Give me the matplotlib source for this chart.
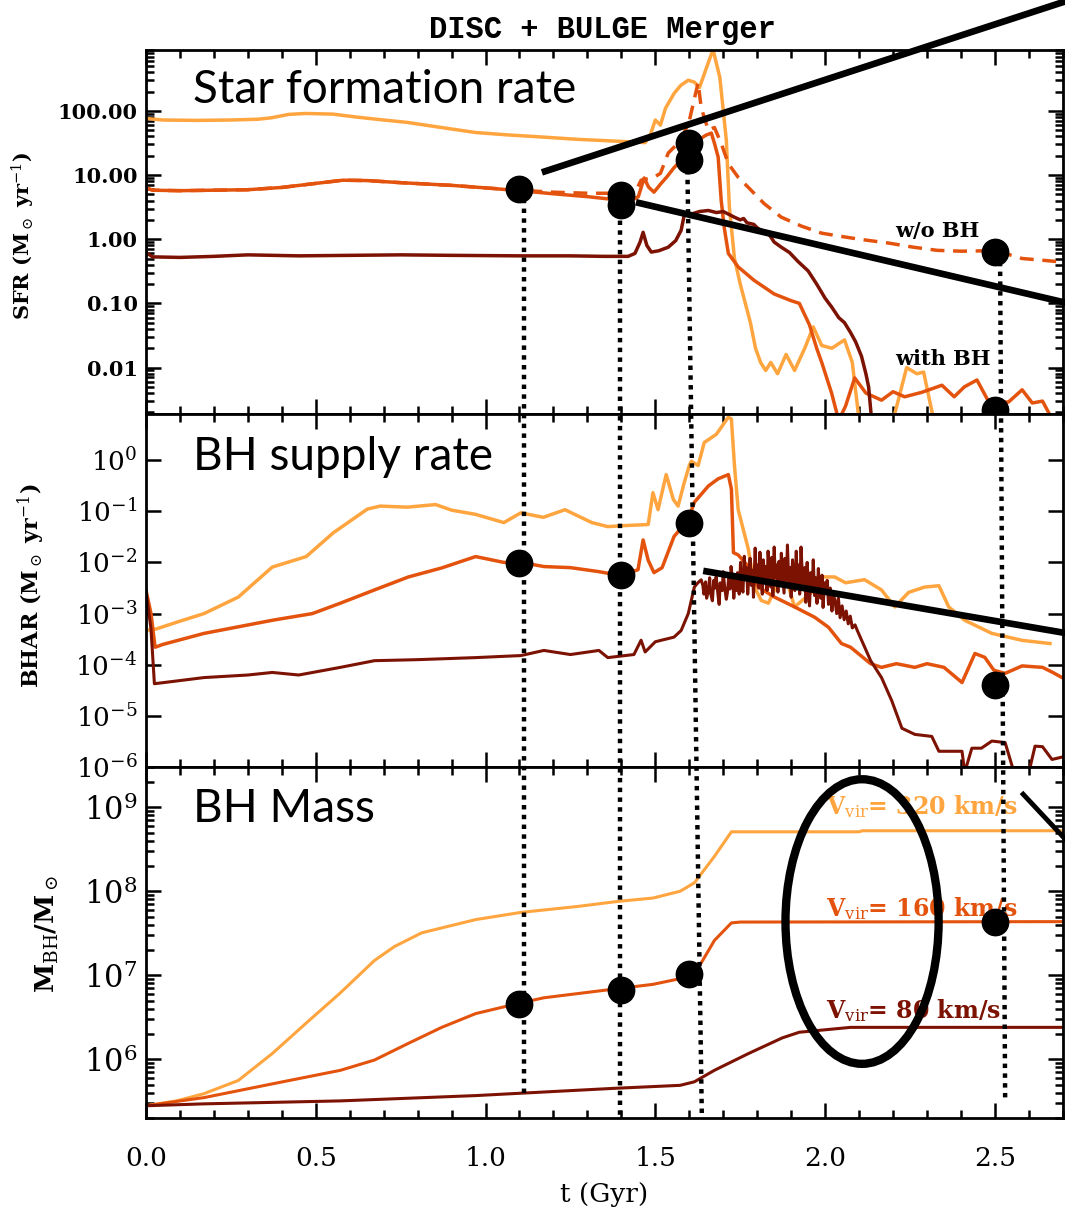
import matplotlib
matplotlib.use("Agg")
import numpy as np
import matplotlib.pyplot as plt
from matplotlib.lines import Line2D
from matplotlib.patches import Ellipse
from matplotlib.ticker import (FixedLocator, FuncFormatter, LogLocator,
                               MultipleLocator, NullLocator, NullFormatter)

plt.rcParams['mathtext.fontset'] = 'dejavuserif'

C320 = '#FFA53F'
C160 = '#E4530D'
C80 = '#7C1202'

# ---------------- star formation rate (Msun / yr) ----------------
t_sfr320 = [0.0, 0.05, 0.15, 0.25, 0.33, 0.37, 0.42, 0.47, 0.55, 0.62, 0.70, 0.77,
            0.87, 0.97, 1.07, 1.17, 1.27, 1.37, 1.47, 1.485, 1.50, 1.515, 1.53, 1.555,
            1.575, 1.597, 1.615, 1.63, 1.65, 1.67, 1.69, 1.709, 1.718, 1.733, 1.75,
            1.765, 1.78, 1.795, 1.81, 1.825, 1.84, 1.86, 1.885, 1.91, 1.94, 1.965,
            1.99, 2.02, 2.057, 2.08, 2.10, 2.15, 2.20, 2.24, 2.27, 2.29, 2.32, 2.35]
sfr320 = [76, 72, 71, 72, 74, 78, 88, 91, 89, 80, 72, 66,
          55, 46, 42, 39, 36, 34, 32, 42, 72, 60, 110, 186,
          250, 300, 280, 230, 460, 900, 330, 35, 3.2, 0.5, 0.2,
          0.1, 0.05, 0.02, 0.012, 0.009, 0.012, 0.008, 0.016, 0.009, 0.02, 0.043,
          0.022, 0.02, 0.027, 0.012, 0.0015, 0.0008, 0.0015, 0.010, 0.008, 0.0085, 0.0015, 0.0008]

t_sfr160 = [0.0, 0.02, 0.1, 0.2, 0.3, 0.4, 0.5, 0.58, 0.65, 0.75, 0.9, 1.0, 1.1, 1.2,
            1.3, 1.37, 1.43, 1.45, 1.467, 1.48, 1.496, 1.517, 1.535, 1.555, 1.597,
            1.626, 1.65, 1.665, 1.675, 1.685, 1.694, 1.703, 1.715, 1.744, 1.79, 1.85,
            1.9, 1.924, 1.954, 1.975, 1.99, 2.019, 2.04, 2.06, 2.087, 2.12, 2.166,
            2.20, 2.234, 2.284, 2.344, 2.38, 2.41, 2.447, 2.482, 2.54, 2.58, 2.61,
            2.64, 2.66, 2.70]
sfr160 = [6.3, 5.8, 5.7, 5.8, 5.9, 6.4, 7.4, 8.3, 8.2, 7.6, 6.9, 6.3, 5.7, 5.1,
          4.6, 4.2, 4.0, 4.6, 9.0, 6.5, 5.4, 7.4, 9.5, 13, 22,
          35, 42, 45, 30, 19, 4.0, 1.5, 0.6, 0.37, 0.23, 0.14,
          0.11, 0.1, 0.046, 0.02, 0.012, 0.004, 0.0015, 0.0025, 0.0069, 0.004, 0.0031,
          0.0042, 0.0035, 0.0041, 0.0053, 0.0035, 0.005, 0.0064, 0.0029, 0.0029, 0.0045, 0.0028,
          0.003, 0.0019, 0.0012]

t_sfr160_nobh = [0.0, 0.02, 0.1, 0.2, 0.3, 0.4, 0.5, 0.58, 0.65, 0.75, 0.9, 1.0, 1.1,
                 1.2, 1.3, 1.37, 1.42, 1.445, 1.458, 1.48, 1.50, 1.515, 1.538, 1.576,
                 1.60, 1.626, 1.635, 1.656, 1.674, 1.694, 1.715, 1.744, 1.774, 1.82,
                 1.871, 1.93, 1.99, 2.05, 2.10, 2.187, 2.26, 2.33, 2.40, 2.48, 2.53,
                 2.58, 2.64, 2.70]
sfr160_nobh = [6.3, 5.8, 5.7, 5.8, 5.9, 6.4, 7.4, 8.3, 8.2, 7.6, 6.9, 6.3, 5.8,
               5.4, 5.2, 5.2, 5.0, 6.0, 8.3, 8.8, 9.5, 10.6, 22, 35,
               70, 275, 112, 50, 55, 31, 15, 9.2, 6.4, 3.6,
               2.2, 1.6, 1.24, 1.1, 1.0, 0.87, 0.75, 0.67, 0.65, 0.66, 0.6,
               0.5, 0.47, 0.44]

t_sfr80 = [0.0, 0.02, 0.1, 0.2, 0.3, 0.45, 0.6, 0.75, 0.9, 1.1, 1.25, 1.35, 1.42,
           1.44, 1.455, 1.464, 1.475, 1.488, 1.51, 1.538, 1.56, 1.576, 1.585, 1.61,
           1.63, 1.656, 1.68, 1.70, 1.733, 1.75, 1.76, 1.77, 1.79, 1.80, 1.812, 1.83,
           1.85, 1.871, 1.895, 1.92, 1.95, 1.975, 2.0, 2.019, 2.04, 2.057, 2.075,
           2.09, 2.107, 2.12, 2.128, 2.137, 2.16]
sfr80 = [0.62, 0.53, 0.52, 0.54, 0.57, 0.55, 0.56, 0.57, 0.56, 0.55, 0.55, 0.54, 0.54,
         0.6, 0.9, 1.28, 0.8, 0.63, 0.66, 0.75, 0.95, 1.38, 2.36, 2.5,
         2.7, 2.8, 2.6, 2.7, 2.2, 2.0, 2.1, 1.8, 1.7, 1.5, 1.38, 1.3,
         0.9, 0.75, 0.62, 0.45, 0.32, 0.2, 0.12, 0.088, 0.06, 0.05, 0.035,
         0.025, 0.015, 0.008, 0.005, 0.0015, 0.0006]

# ---------------- black hole accretion rate (Msun / yr) ----------------
t_bhar320 = [0.0, 0.03, 0.1, 0.171, 0.272, 0.372, 0.472, 0.552, 0.652, 0.69, 0.77,
             0.853, 0.9, 0.97, 1.054, 1.104, 1.17, 1.234, 1.313, 1.36, 1.40, 1.479,
             1.493, 1.508, 1.532, 1.553, 1.567, 1.585, 1.60, 1.606, 1.626, 1.644,
             1.68, 1.715, 1.724, 1.733, 1.744, 1.774, 1.792, 1.812, 1.833, 1.851,
             1.865, 1.88, 1.91, 1.969, 1.99, 2.028, 2.06, 2.116, 2.166, 2.205,
             2.246, 2.293, 2.335, 2.364, 2.411, 2.491, 2.58, 2.662]
bhar320 = [4.7e-4, 5.0e-4, 7.1e-4, 1.0e-3, 2.1e-3, 8.1e-3, 1.3e-2, 3.8e-2, 1.1e-1, 1.26e-1, 1.2e-1,
           1.35e-1, 1.05e-1, 8.7e-2, 6.0e-2, 9.3e-2, 7.6e-2, 1.07e-1, 6.0e-2, 5.0e-2, 5.2e-2, 5.5e-2,
           2.3e-1, 1.07e-1, 5.2e-1, 1.7e-1, 1.26e-1, 3.6e-1, 7.8e-1, 9.5e-1, 7.8e-1, 2.2,
           3.2, 6.9, 6.3, 7.8e-1, 1.07e-1, 1.8e-2, 3.3e-3, 1.8e-3, 1.6e-3, 2.9e-3,
           1.0e-2, 6.3e-3, 1.35e-3, 2.9e-3, 5.2e-3, 5.2e-3, 4.0e-3, 4.6e-3, 2.9e-3, 1.35e-3,
           2.6e-3, 3.3e-3, 3.5e-3, 1.35e-3, 7.4e-4, 4.1e-4, 3.0e-4, 2.6e-4]

t_bhar160 = [0.0, 0.015, 0.027, 0.05, 0.171, 0.372, 0.49, 0.573, 0.673, 0.773, 0.871,
             0.971, 1.054, 1.104, 1.172, 1.25, 1.334, 1.399, 1.449, 1.464, 1.479,
             1.496, 1.52, 1.555, 1.597, 1.615, 1.656, 1.685, 1.715, 1.724, 1.730,
             1.744, 1.774, 1.803, 1.851, 1.91, 1.969, 2.01, 2.048, 2.075, 2.134,
             2.166, 2.21, 2.264, 2.30, 2.35, 2.403, 2.441, 2.47, 2.497, 2.53, 2.58,
             2.64, 2.67, 2.698, 2.71]
bhar160 = [2.9e-3, 1.0e-3, 2.2e-4, 2.5e-4, 4.1e-4, 7.4e-4, 1.0e-3, 1.6e-3, 2.9e-3, 5.2e-3, 7.8e-3,
           1.3e-2, 1.0e-2, 1.0e-2, 8.3e-3, 7.9e-3, 6.6e-3, 5.5e-3, 7.2e-3, 2.75e-2, 1.1e-2,
           6.3e-3, 7.9e-3, 3.2e-2, 6.9e-2, 1.5e-1, 3.1e-1, 4.3e-1, 5.2e-1, 2.7e-1, 1.55e-2,
           1.4e-2, 8.3e-3, 3.3e-3, 2.1e-3, 1.35e-3, 8.5e-4, 5.4e-4, 2.6e-4, 2.2e-4, 1.05e-4,
           8.9e-5, 1.05e-4, 8.9e-5, 1.05e-4, 8.9e-5, 4.5e-5, 1.66e-4, 1.4e-4, 7.8e-5, 6.8e-5, 9.5e-5,
           8.9e-5, 7.1e-5, 5.6e-5, 6.3e-5]

# the 80 km/s run flickers strongly after coalescence: stored as log10
t_bhar80 = [0.0, 0.015, 0.025, 0.05, 0.171, 0.3, 0.372, 0.45, 0.573, 0.673, 0.8, 0.971,
            1.104, 1.172, 1.25, 1.334, 1.36, 1.437, 1.458, 1.47, 1.50, 1.555, 1.576,
            1.597, 1.606, 1.615, 1.625, 1.635,
            1.640, 1.643, 1.648, 1.651, 1.657, 1.660, 1.662, 1.668, 1.672, 1.676,
            1.679, 1.685, 1.688, 1.691, 1.697, 1.700, 1.704, 1.709, 1.712, 1.716,
            1.720, 1.723, 1.729, 1.731, 1.735, 1.740, 1.742, 1.747, 1.751, 1.753,
            1.758, 1.762, 1.764, 1.769, 1.772, 1.776, 1.779, 1.783, 1.787, 1.789,
            1.794, 1.797, 1.801, 1.804, 1.808, 1.811, 1.815, 1.818, 1.822, 1.825,
            1.829, 1.832, 1.836, 1.840, 1.843, 1.846, 1.850, 1.853, 1.857, 1.861,
            1.864, 1.868, 1.871, 1.875, 1.879, 1.882, 1.886, 1.889, 1.893, 1.897,
            1.900, 1.904, 1.907, 1.911, 1.915, 1.918, 1.922, 1.925, 1.929, 1.933,
            1.936, 1.940, 1.943, 1.947, 1.951, 1.954, 1.958, 1.962, 1.965, 1.969,
            1.972, 1.976, 1.980, 1.983, 1.987, 1.991, 1.994, 1.998, 2.002, 2.006,
            2.010, 2.015, 2.020, 2.024, 2.029, 2.034, 2.039, 2.044, 2.050, 2.056,
            2.062, 2.068, 2.074, 2.080, 2.088, 2.096,
            2.134, 2.166, 2.196, 2.226, 2.264, 2.314, 2.335, 2.403, 2.411,
            2.432, 2.46, 2.491, 2.53, 2.556, 2.6, 2.618, 2.64, 2.668, 2.70]
log_bhar80 = [-2.54, -3.30, -4.37, -4.35, -4.25, -4.20, -4.15, -4.20, -4.05, -3.92, -3.90, -3.86,
              -3.82, -3.72, -3.80, -3.72, -3.86, -3.80, -3.52, -3.75, -3.55, -3.46, -3.33,
              -3.00, -2.74, -2.48, -2.40, -2.34,
              -2.45, -2.62, -2.38, -2.70, -2.52, -2.30, -2.58, -2.75, -2.35, -2.50,
              -2.28, -2.66, -2.82, -2.40, -2.55, -2.18, -2.48, -2.72, -2.60, -2.30,
              -2.52, -2.08, -2.45, -2.70, -2.35, -2.55, -2.20, -2.62, -2.00, -2.42,
              -2.58, -1.88, -2.30, -2.10, -2.62, -2.25, -1.92, -2.45, -2.15, -2.68,
              -1.72, -2.28, -2.05, -2.50, -1.80, -2.18, -2.62, -1.95, -2.35, -2.08,
              -2.55, -1.78, -2.20, -2.48, -1.90, -2.65, -1.70, -2.30, -2.05, -2.58,
              -1.98, -2.40, -1.82, -2.22, -2.60, -1.92, -2.35, -1.66, -2.45, -2.10,
              -2.68, -1.95, -2.30, -2.55, -1.78, -2.40, -2.05, -2.62, -1.70, -2.28,
              -2.50, -2.10, -2.78, -2.00, -2.42, -2.85, -2.20, -2.55, -1.95, -2.65,
              -2.30, -2.80, -2.12, -2.48, -2.70, -2.25, -2.88, -2.40, -2.60, -2.35,
              -2.82, -2.50, -2.95, -2.62, -2.75, -3.00, -2.70, -3.08, -2.85, -3.12,
              -2.95, -3.20, -3.05, -3.28, -3.22, -3.35,
              -3.92, -4.25, -4.70, -5.24, -5.36, -5.40, -5.69, -5.69, -6.10,
              -5.63, -5.63, -5.49, -5.52, -6.10, -6.10, -5.59, -5.60, -5.85, -5.80]

# ---------------- black hole mass (Msun) ----------------
t_mbh320 = [0.0, 0.09, 0.171, 0.272, 0.372, 0.472, 0.573, 0.673, 0.732, 0.812, 0.971,
            1.104, 1.272, 1.393, 1.493, 1.573, 1.615, 1.674, 1.724, 2.1, 2.11, 2.7]
mbh320 = [2.8e5, 3.2e5, 3.9e5, 5.6e5, 1.17e6, 2.7e6, 6.2e6, 1.5e7, 2.2e7, 3.2e7, 4.6e7,
          5.6e7, 6.6e7, 7.6e7, 8.3e7, 1.0e8, 1.26e8, 2.6e8, 5.1e8, 5.1e8, 5.25e8, 5.25e8]

t_mbh160 = [0.0, 0.171, 0.372, 0.573, 0.673, 0.773, 0.871, 0.971, 1.104, 1.172, 1.372,
            1.493, 1.594, 1.635, 1.674, 1.724, 1.75, 2.7]
mbh160 = [2.8e5, 3.5e5, 5.1e5, 7.4e5, 9.8e5, 1.55e6, 2.4e6, 3.5e6, 4.7e6, 5.4e6, 6.8e6,
          7.8e6, 9.5e6, 1.4e7, 2.6e7, 4.2e7, 4.3e7, 4.35e7]

t_mbh80 = [0.0, 0.171, 0.573, 0.971, 1.372, 1.573, 1.615, 1.674, 1.774, 1.874, 1.924,
           2.075, 2.7]
mbh80 = [2.8e5, 2.95e5, 3.2e5, 3.7e5, 4.5e5, 4.9e5, 5.4e5, 7.4e5, 1.17e6, 1.8e6, 2.1e6,
         2.4e6, 2.4e6]

# ---------------- highlighted epochs ----------------
t_sfr_dots = [1.1, 1.4, 1.4, 1.6, 1.6, 2.5, 2.5]
sfr_dots = [6.0, 4.8, 3.4, 31, 17, 0.63, 0.0022]
t_bhar_dots = [1.1, 1.4, 1.6, 2.5]
bhar_dots = [0.0097, 0.0057, 0.06, 4.0e-5]
t_mbh_dots = [1.1, 1.4, 1.6, 2.5]
mbh_dots = [4.5e6, 6.7e6, 1.05e7, 4.3e7]

# dotted guides: (t, SFR) at the top end, (t, M_BH) at the lower end
guide_top = [(1.112, 6.0), (1.396, 4.0), (1.594, 17.0), (2.515, 0.63)]
guide_bottom = [(1.112, 3.5e5), (1.396, 2.0e5), (1.637, 2.0e5), (2.53, 3.5e5)]

fig = plt.figure(figsize=(10.65, 12.10), dpi=100)
left, width = 0.137, 0.861
ax1 = fig.add_axes([left, 0.658, width, 0.301])
ax2 = fig.add_axes([left, 0.366, width, 0.292], sharex=ax1)
ax3 = fig.add_axes([left, 0.076, width, 0.290], sharex=ax1)

lw = 2.5
ax1.plot(t_sfr320, sfr320, color=C320, lw=lw)
ax1.plot(t_sfr160_nobh, sfr160_nobh, color=C160, lw=lw, ls=(0, (4, 2.5)))
ax1.plot(t_sfr160, sfr160, color=C160, lw=lw)
ax1.plot(t_sfr80, sfr80, color=C80, lw=lw)

ax2.plot(t_bhar320, bhar320, color=C320, lw=lw)
ax2.plot(t_bhar160, bhar160, color=C160, lw=lw)
ax2.plot(t_bhar80, 10.0 ** np.array(log_bhar80), color=C80, lw=2.2)

ax3.plot(t_mbh320, mbh320, color=C320, lw=2.2)
ax3.plot(t_mbh160, mbh160, color=C160, lw=2.2)
ax3.plot(t_mbh80, mbh80, color=C80, lw=2.2)

dot_kw = dict(ls='none', marker='o', ms=19, color='black', zorder=6)
ax1.plot(t_sfr_dots, sfr_dots, **dot_kw)
ax2.plot(t_bhar_dots, bhar_dots, **dot_kw)
ax3.plot(t_mbh_dots, mbh_dots, **dot_kw)

for ax in (ax1, ax2, ax3):
    ax.set_yscale('log')
    ax.set_xlim(0, 2.7)
    for s in ax.spines.values():
        s.set_linewidth(2.0)
    ax.tick_params(which='both', direction='in', top=True, right=True, width=1.8)
    ax.tick_params(which='major', length=11)
    ax.tick_params(which='minor', length=6)
    ax.xaxis.set_major_locator(MultipleLocator(0.5))
    ax.xaxis.set_minor_locator(MultipleLocator(0.1))

ax1.set_ylim(0.0019, 900)
ax1.yaxis.set_major_locator(FixedLocator([0.01, 0.1, 1, 10, 100]))
ax1.yaxis.set_major_formatter(FuncFormatter(lambda v, p: f'{v:.2f}'))
ax1.yaxis.set_minor_locator(LogLocator(base=10, subs=np.arange(2, 10)))
ax1.yaxis.set_minor_formatter(NullFormatter())

ax2.set_ylim(1e-6, 8)
ax2.yaxis.set_major_locator(FixedLocator([1e-6, 1e-5, 1e-4, 1e-3, 1e-2, 1e-1, 1e0]))
ax2.yaxis.set_major_formatter(FuncFormatter(lambda v, p: r'$10^{%d}$' % round(np.log10(v))))
ax2.yaxis.set_minor_locator(NullLocator())

ax3.set_ylim(2.0e5, 3.0e9)
ax3.yaxis.set_major_locator(FixedLocator([1e6, 1e7, 1e8, 1e9]))
ax3.yaxis.set_major_formatter(FuncFormatter(lambda v, p: r'$10^{%d}$' % round(np.log10(v))))
ax3.yaxis.set_minor_locator(LogLocator(base=10, subs=np.arange(2, 10)))
ax3.yaxis.set_minor_formatter(NullFormatter())

serif = 'DejaVu Serif'
ax1.tick_params(axis='y', labelsize=15, pad=6)
ax2.tick_params(axis='y', labelsize=19, pad=6)
ax3.tick_params(axis='y', labelsize=22, pad=6)
ax3.tick_params(axis='x', labelsize=19, pad=20)
for lab in ax1.get_yticklabels():
    lab.set_fontfamily(serif)
    lab.set_fontweight('bold')
for lab in ax3.get_xticklabels():
    lab.set_fontfamily(serif)
ax1.tick_params(axis='x', labelbottom=False)
ax2.tick_params(axis='x', labelbottom=False)
ax3.xaxis.set_major_formatter(FuncFormatter(lambda v, p: f'{v:.1f}'))

ax1.set_ylabel(r'SFR (M$_\odot$ yr$^{-1}$)', fontsize=15, fontfamily=serif, fontweight='bold')
ax1.yaxis.set_label_coords(-0.119, 0.49)
ax2.set_ylabel(r'BHAR (M$_\odot$ yr$^{-1}$)', fontsize=16, fontfamily=serif, fontweight='bold')
ax2.yaxis.set_label_coords(-0.108, 0.513)
ax3.set_ylabel(r'M$_{\rm BH}$/M$_\odot$', fontsize=19, fontfamily=serif, fontweight='bold')
ax3.yaxis.set_label_coords(-0.093, 0.523)
ax3.set_xlabel('t (Gyr)', fontsize=19, fontfamily=serif, labelpad=8)

fig.text(0.566, 0.969, 'DISC + BULGE Merger', ha='center', va='baseline',
         fontsize=22, fontfamily='Liberation Mono', fontweight='bold')

hand = 'Lato'
ax1.text(0.051, 0.854, 'Star formation rate', transform=ax1.transAxes,
         fontsize=33, fontfamily=hand, va='baseline')
ax2.text(0.051, 0.84, 'BH supply rate', transform=ax2.transAxes,
         fontsize=33, fontfamily=hand, va='baseline')
ax3.text(0.051, 0.843, 'BH Mass', transform=ax3.transAxes,
         fontsize=33, fontfamily=hand, va='baseline')

note_kw = dict(fontsize=15, fontfamily=serif, fontweight='bold', va='baseline', ha='left')
ax1.text(2.205, 1.07, 'w/o BH', **note_kw)
ax1.text(2.205, 0.011, 'with BH', **note_kw)

vir_kw = dict(fontsize=17, fontfamily=serif, fontweight='bold', va='baseline', ha='left')
ax3.text(2.004, 10**8.92, r'V$_{\rm vir}$= 320 km/s', color=C320, **vir_kw)
ax3.text(2.004, 10**7.70, r'V$_{\rm vir}$= 160 km/s', color=C160, **vir_kw)
ax3.text(2.004, 10**6.49, r'V$_{\rm vir}$= 80 km/s', color=C80, **vir_kw)

# dotted guides linking the epochs through all three panels
inv = fig.transFigure.inverted()
for (ta, ya), (tb, yb) in zip(guide_top, guide_bottom):
    pa = inv.transform(ax1.transData.transform((ta, ya)))
    pb = inv.transform(ax3.transData.transform((tb, yb)))
    fig.add_artist(Line2D([pa[0], pb[0]], [pa[1], pb[1]], transform=fig.transFigure,
                          color='black', lw=3.2, ls=(0, (1.0, 1.2)), zorder=5))

# pointer strokes and the highlighted plateau
pk = dict(color='black', lw=4.8, clip_on=False, zorder=7, solid_capstyle='butt')
ax1.plot([1.166, 2.713], [11.0, 5200], **pk)
ax1.plot([1.443, 2.713], [3.76, 0.101], **pk)
ax2.plot([1.641, 2.713], [10**-2.165, 10**-3.386], **pk)
ax3.plot([2.583, 2.713], [10**9.155, 10**8.594], lw=3.5, color='black', clip_on=False, zorder=7)
ax3.add_patch(Ellipse((0.781, 0.56), 0.167, 0.811, transform=ax3.transAxes,
                      fill=False, lw=6, ec='black', clip_on=False, zorder=7))

fig.savefig('out.png', dpi=100)
